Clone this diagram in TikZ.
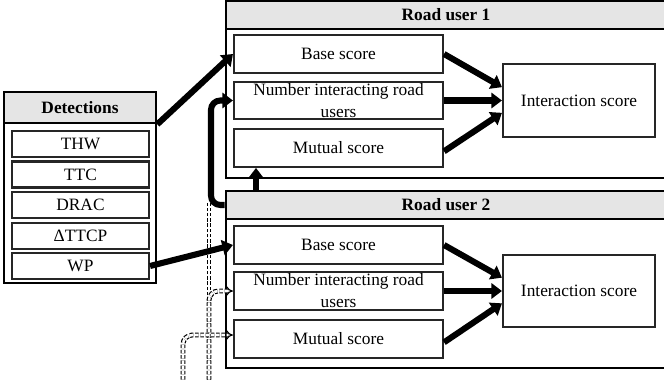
\documentclass[tikz,border=0pt]{standalone}
\usepackage{fontspec}
\setmainfont{Liberation Serif}
\usetikzlibrary{arrows.meta}
\usetikzlibrary{positioning}

\begin{document}
\begin{tikzpicture}[x=0.03cm,y=-0.03cm,
	userbox/.style={draw=black,line width=2.2pt,minimum width=13.2cm},
	header/.style={draw=black,line width=2.2pt,fill=black!10,minimum width=13.2cm,minimum height=0.84cm,font=\fontsize{14.8}{18}\selectfont\bfseries},
	box/.style={draw=black!85,line width=1.8pt,minimum width=6.27cm,minimum height=1.13cm,inner sep=0pt,align=center,font=\fontsize{14.8}{18.7}\selectfont},
	item/.style={draw=black!85,line width=1.8pt,minimum width=4.11cm,minimum height=0.78cm,inner sep=0pt,font=\fontsize{14.8}{18}\selectfont},
	flow/.style={line width=5.2pt,-{Triangle[length=9pt,width=13pt]}},
	extra/.style={double,line width=1pt,double distance=2.2pt,dash pattern=on 3pt off 1.5pt,rounded corners=8pt}]
	\useasboundingbox (0,0) rectangle (664,380);
	\node[userbox,minimum height=5.31cm] (ru1) at (446,89.5) {};
	\node[header,anchor=north] (ru1h) at (ru1.north) {Road user 1};
	\node[box] (base1) at (338.5,54) {Base score};
	\node[box] (num1) at (338.5,100.5) {Number interacting road\\users};
	\node[box] (mut1) at (338.5,148) {Mutual score};
	\node[box,minimum width=4.56cm,minimum height=2.19cm] (inter1) at (579,100.5) {Interaction score};
	\node[userbox,minimum height=5.31cm] (ru2) at (446,279.5) {};
	\node[header,anchor=north] (ru2h) at (ru2.north) {Road user 2};
	\node[box] (base2) at (338.5,245) {Base score};
	\node[box] (num2) at (338.5,291) {Number interacting road\\users};
	\node[box] (mut2) at (338.5,339) {Mutual score};
	\node[box,minimum width=4.56cm,minimum height=2.16cm] (inter2) at (579,291) {Interaction score};
	\node[userbox,minimum width=4.56cm,minimum height=5.73cm] (det) at (80,187.5) {};
	\node[header,minimum width=4.56cm,minimum height=0.93cm,anchor=north] (deth) at (det.north) {Detections};
	\node[item] (thw) at (80.5,144) {THW};
	\node[item] (ttc) at (80.5,174.5) {TTC};
	\node[item] (drac) at (80.5,205) {DRAC};
	\node[item] (dttcp) at (80.5,236) {ΔTTCP};
	\node[item] (wp) at (80.5,266) {WP};
	\coordinate (inA) at (209,385);
	\coordinate (inB) at (183,385);
	\coordinate (topA) at (209,203);
	\coordinate (loop) at (211,100.5);
	\coordinate (up) at (256,191);
	\draw[extra] (inA) -- (topA);
	\draw[extra,-{Implies}] (inA) |- (num2.west);
	\draw[extra,-{Implies}] (inB) |- ([yshift=0.12cm]mut2.west);
	\draw[flow] (deth.south east) -- (base1.west);
	\draw[flow] (wp.east) -- (base2.west);
	\draw[flow,rounded corners=8pt] (ru2h.west) -| (loop) -- (num1.west);
	\draw[flow] (up) -- (up |- mut1.south);
	\draw[flow] (base1.east) -- ([yshift=0.4cm]inter1.west);
	\draw[flow] (num1.east) -- (inter1.west);
	\draw[flow] ([yshift=-0.1cm]mut1.east) -- ([yshift=-0.37cm]inter1.west);
	\draw[flow] (base2.east) -- ([yshift=0.4cm]inter2.west);
	\draw[flow] (num2.east) -- (inter2.west);
	\draw[flow] ([yshift=-0.1cm]mut2.east) -- ([yshift=-0.37cm]inter2.west);
\end{tikzpicture}
\end{document}
